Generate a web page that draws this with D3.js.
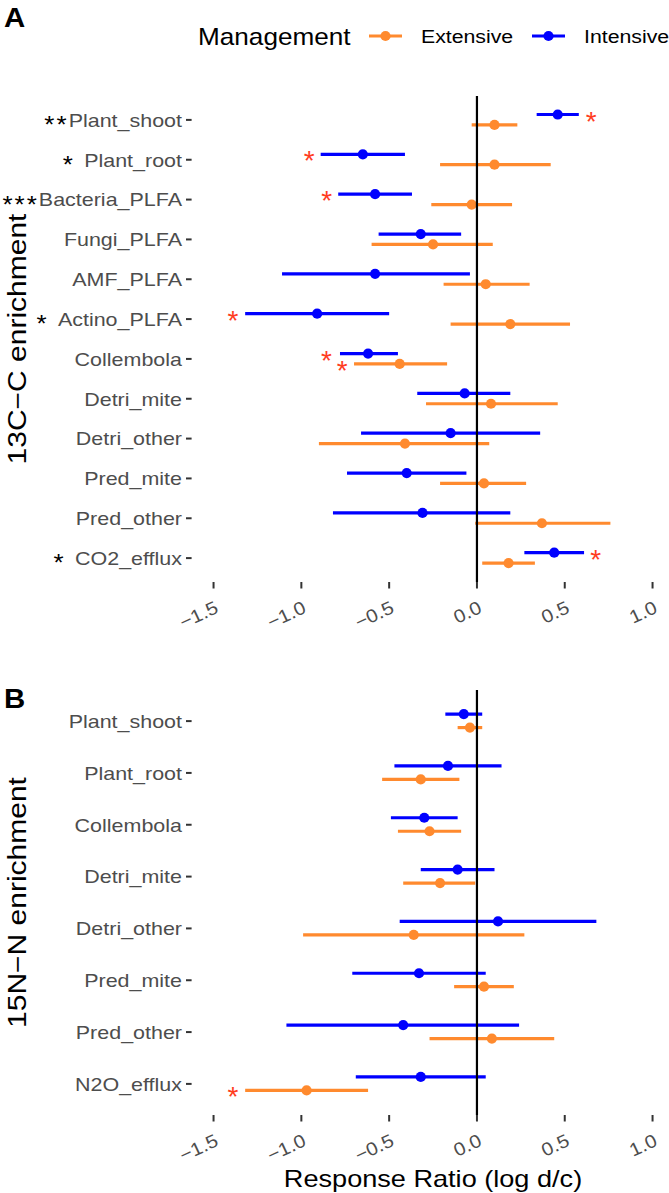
<!DOCTYPE html>
<html><head><meta charset="utf-8">
<script src="https://cdn.jsdelivr.net/npm/d3@7"></script>
<style>body{margin:0;background:#fff} svg{display:block} text{font-family:"Liberation Sans",Arial,Helvetica,sans-serif}</style>
</head><body><svg id="c" width="669" height="1193"></svg>
<script>
// ---------- Data ----------
const seriesNames = ["Extensive", "Intensive"];
const seriesColors = ["#ff8a2e", "#0000ff"];
const xTicks = [-1.5, -1.0, -0.5, 0.0, 0.5, 1.0];

const categoriesA = ["Plant_shoot","Plant_root","Bacteria_PLFA","Fungi_PLFA","AMF_PLFA","Actino_PLFA","Collembola","Detri_mite","Detri_other","Pred_mite","Pred_other","CO2_efflux"];
const sigA = ["**","* ","***","","","* ","","","","","","* "];
const intA_mean = [0.46,-0.65,-0.58,-0.32,-0.58,-0.91,-0.62,-0.07,-0.15,-0.40,-0.31,0.44];
const intA_lo   = [0.34,-0.89,-0.79,-0.56,-1.11,-1.32,-0.78,-0.34,-0.66,-0.74,-0.82,0.27];
const intA_hi   = [0.58,-0.41,-0.37,-0.09,-0.04,-0.50,-0.45,0.19,0.36,-0.06,0.19,0.61];
const extA_mean = [0.10,0.10,-0.03,-0.25,0.05,0.19,-0.44,0.08,-0.41,0.04,0.37,0.18];
const extA_lo   = [-0.03,-0.21,-0.26,-0.60,-0.19,-0.15,-0.70,-0.29,-0.90,-0.21,-0.01,0.03];
const extA_hi   = [0.23,0.42,0.20,0.09,0.30,0.53,-0.17,0.46,0.07,0.28,0.76,0.33];
const starCatsA   = ["Plant_shoot","Plant_root","Bacteria_PLFA","Actino_PLFA","Collembola","Collembola","CO2_efflux"];
const starSeriesA = ["Intensive","Intensive","Intensive","Intensive","Intensive","Extensive","Intensive"];
const starXA      = [0.65,-0.955,-0.855,-1.39,-0.857,-0.768,0.676];

const categoriesB = ["Plant_shoot","Plant_root","Collembola","Detri_mite","Detri_other","Pred_mite","Pred_other","N2O_efflux"];
const sigB = ["","","","","","","",""];
const intB_mean = [-0.075,-0.165,-0.30,-0.11,0.12,-0.33,-0.42,-0.32];
const intB_lo   = [-0.18,-0.47,-0.49,-0.32,-0.44,-0.71,-1.085,-0.69];
const intB_hi   = [0.03,0.14,-0.11,0.10,0.68,0.05,0.24,0.05];
const extB_mean = [-0.04,-0.32,-0.27,-0.21,-0.36,0.04,0.085,-0.97];
const extB_lo   = [-0.11,-0.54,-0.45,-0.42,-0.99,-0.13,-0.27,-1.32];
const extB_hi   = [0.03,-0.10,-0.09,-0.01,0.27,0.21,0.44,-0.62];
const starCatsB   = ["N2O_efflux"];
const starSeriesB = ["Extensive"];
const starXB      = [-1.39];

// ---------- Layout ----------
const svg = d3.select("#c");
const x = d3.scaleLinear().domain([-1.625, 1.125]).range([191.6, 674.5]);
const color = d3.scaleOrdinal().domain(seriesNames).range(seriesColors);
const fmt = d3.format(".1f");

function stext(g, tx, ty, str, opts) {
  opts = opts || {};
  const t = g.append("text")
    .attr("transform", `translate(${tx},${ty})` + (opts.rot ? ` rotate(${opts.rot})` : "") + ` scale(${opts.sx || 1},1)`)
    .attr("text-anchor", opts.anchor || "start")
    .attr("font-size", opts.size || 17)
    .attr("font-weight", opts.weight || "normal")
    .attr("fill", opts.fill || "#000");
  if (str !== null) t.text(str);
  return t;
}

function panel(cfg) {
  const g = svg.append("g");
  const y = d3.scalePoint().domain(cfg.cats).range([cfg.top, cfg.bottom]).padding(0.6);
  const step = y.step();
  const dodge = { "Intensive": -0.135 * step, "Extensive": 0.125 * step };

  // y axis labels + ticks
  cfg.cats.forEach((c, i) => {
    const yy = y(c);
    g.append("line").attr("x1", 186).attr("x2", 191.6).attr("y1", yy).attr("y2", yy)
      .attr("stroke", "#333").attr("stroke-width", 2);
    const t = stext(g, 182, yy + 6.8, null, { anchor: "end", size: 19, sx: 1.13 });
    if (cfg.sig[i]) {
      t.append("tspan").attr("fill", "#000").attr("font-size", 23).attr("letter-spacing", 1.8).attr("dy", 6.5).text(cfg.sig[i]);
      t.append("tspan").attr("fill", "#4d4d4d").attr("dy", -6.5).text(c);
    } else {
      t.append("tspan").attr("fill", "#4d4d4d").text(c);
    }
  });

  // x axis ticks + labels
  xTicks.forEach(v => {
    g.append("line").attr("x1", x(v)).attr("x2", x(v)).attr("y1", cfg.bottom).attr("y2", cfg.bottom + 6.5)
      .attr("stroke", "#333").attr("stroke-width", 2);
    stext(g, x(v) + 6, cfg.bottom + 30, fmt(v), { anchor: "end", size: 18.5, sx: 1.1, rot: -25, fill: "#4d4d4d" });
  });

  // data
  const rows = [];
  cfg.cats.forEach((c, i) => {
    rows.push({ cat: c, s: "Intensive", m: cfg.int[0][i], lo: cfg.int[1][i], hi: cfg.int[2][i] });
    rows.push({ cat: c, s: "Extensive", m: cfg.ext[0][i], lo: cfg.ext[1][i], hi: cfg.ext[2][i] });
  });
  const py = d => y(d.cat) + dodge[d.s];
  g.selectAll("line.err").data(rows).join("line").attr("class", "err")
    .attr("x1", d => x(d.lo)).attr("x2", d => x(d.hi)).attr("y1", py).attr("y2", py)
    .attr("stroke", d => color(d.s)).attr("stroke-width", 3.2);
  g.selectAll("circle.pt").data(rows).join("circle").attr("class", "pt")
    .attr("cx", d => x(d.m)).attr("cy", py).attr("r", 5.1).attr("fill", d => color(d.s));

  // zero line
  g.append("line").attr("x1", x(0)).attr("x2", x(0)).attr("y1", cfg.top).attr("y2", cfg.bottom)
    .attr("stroke", "#000").attr("stroke-width", 2.2);

  // red stars
  cfg.starCats.forEach((c, i) => {
    const yy = y(c) + dodge[cfg.starSeries[i]];
    stext(g, x(cfg.starX[i]), yy + 16, "*", { anchor: "middle", size: 28, fill: "#ff3d1f" });
  });

  // panel letter
  stext(g, 4, cfg.letterY, cfg.letter, { size: 28, weight: "bold", sx: 1.05 });
  // y title
  stext(g, 26, (cfg.top + cfg.bottom) / 2, cfg.title, { anchor: "middle", size: 25, sx: 1.2, rot: -90 });
}

panel({ cats: categoriesA, sig: sigA, top: 96, bottom: 582,
  int: [intA_mean, intA_lo, intA_hi], ext: [extA_mean, extA_lo, extA_hi],
  starCats: starCatsA, starSeries: starSeriesA, starX: starXA,
  letter: "A", letterY: 27, title: "13C−C enrichment" });
panel({ cats: categoriesB, sig: sigB, top: 690, bottom: 1115,
  int: [intB_mean, intB_lo, intB_hi], ext: [extB_mean, extB_lo, extB_hi],
  starCats: starCatsB, starSeries: starSeriesB, starX: starXB,
  letter: "B", letterY: 708, title: "15N−N enrichment" });

// x title
stext(svg, 433, 1187, "Response Ratio (log d/c)", { anchor: "middle", size: 24, sx: 1.13 });

// legend
const lg = svg.append("g");
stext(lg, 198, 45, "Management", { size: 24, sx: 1.09 });
const legX = [369, 532];
["Extensive", "Intensive"].forEach((s, i) => {
  lg.append("line").attr("x1", legX[i]).attr("x2", legX[i] + 33).attr("y1", 36).attr("y2", 36)
    .attr("stroke", color(s)).attr("stroke-width", 3.2);
  lg.append("circle").attr("cx", legX[i] + 16.5).attr("cy", 36).attr("r", 5.1).attr("fill", color(s));
  stext(lg, legX[i] + 52, 43, s, { size: 19, sx: 1.12 });
});
</script></body></html>
